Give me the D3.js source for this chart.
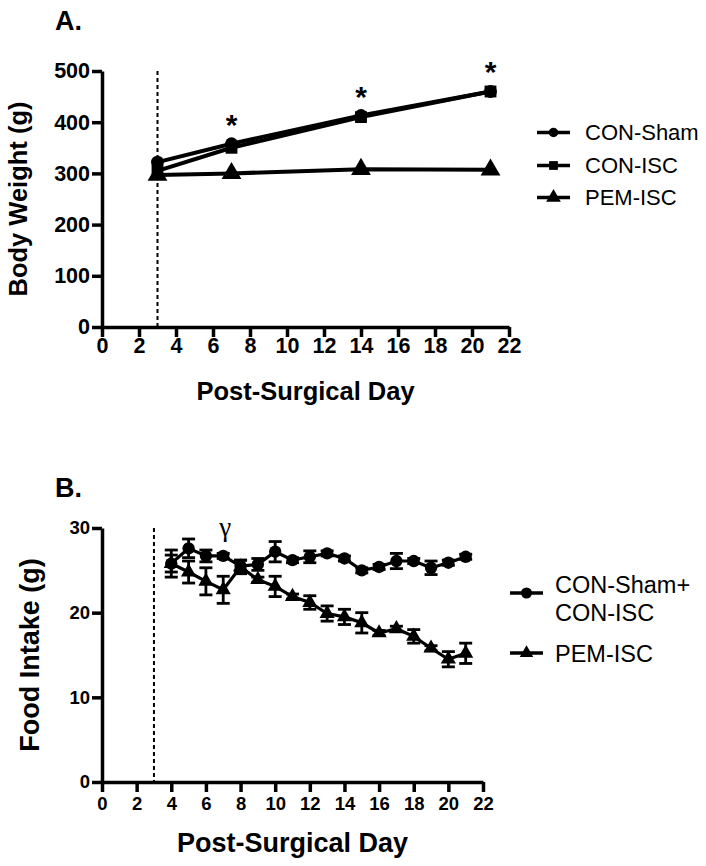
<!DOCTYPE html>
<html><head><meta charset="utf-8">
<script src="https://cdn.jsdelivr.net/npm/d3@7"></script>
<style>
html,body{margin:0;padding:0;background:#fff;}
svg{display:block;font-family:"Liberation Sans",Arial,Helvetica,sans-serif;}
</style></head>
<body><svg id="c" width="706" height="866"></svg>
<script>
// ---- Panel A data ----
const daysA = [3, 7, 14, 21];
const conShamA = [322, 358, 413, 460];
const conIscA = [305, 350, 410, 460];
const pemIscA = [297, 300, 308, 307];
const starDaysA = [7, 14, 21];
const xTicksA = [0,2,4,6,8,10,12,14,16,18,20,22];
const yTicksA = [0,100,200,300,400,500];
const legendA = ["CON-Sham", "CON-ISC", "PEM-ISC"];

// ---- Panel B data ----
const daysB = [4,5,6,7,8,9,10,11,12,13,14,15,16,17,18,19,20,21];
const conB = [25.8,27.6,26.7,26.7,25.5,25.7,27.2,26.2,26.6,27.0,26.4,25.0,25.4,26.1,26.1,25.3,25.9,26.6];
const conBErr = [1.6,1.1,0.7,0.3,0.7,0.7,1.2,0.3,0.7,0.3,0.3,0.3,0.3,0.9,0.3,0.8,0.3,0.3];
const pemB = [25.8,24.8,23.7,22.7,25.4,23.9,23.1,21.9,21.2,19.9,19.5,18.8,17.6,18.1,17.2,15.8,14.5,15.2];
const pemBErr = [1.0,1.3,1.6,1.6,0.8,0.3,1.2,0.3,0.8,0.9,0.9,1.2,0.3,0.3,0.8,0.3,0.9,1.2];
const gammaDay = 7;
const xTicksB = [0,2,4,6,8,10,12,14,16,18,20,22];
const yTicksB = [0,10,20,30];
const legendB = [["CON-Sham+","CON-ISC"], ["PEM-ISC"]];

const svg = d3.select("#c");

function styleAxis(g, fs, sw) {
  g.selectAll("path.domain").attr("stroke","#000").attr("stroke-width",sw);
  g.selectAll(".tick line").attr("stroke","#000").attr("stroke-width",sw);
  g.selectAll(".tick text").attr("fill","#000").attr("font-size",fs).attr("font-weight","bold")
    .attr("font-family","'Liberation Sans',Arial,sans-serif");
}
function sym(type, size) { return d3.symbol().type(type).size(size)(); }

// ================= Panel A =================
const xA = d3.scaleLinear().domain([0,22]).range([102,509]);
const yA = d3.scaleLinear().domain([0,500]).range([327,71]);
const gA = svg.append("g");

gA.append("text").attr("x",55).attr("y",30).attr("font-size",27).attr("font-weight","bold").text("A.");

const axYA = gA.append("g").attr("transform",`translate(${xA(0)},0)`)
  .call(d3.axisLeft(yA).tickValues(yTicksA).tickSize(10).tickSizeOuter(0).tickPadding(2));
styleAxis(axYA, 21.5, 3.5);
const axXA = gA.append("g").attr("transform",`translate(0,${yA(0)})`)
  .call(d3.axisBottom(xA).tickValues(xTicksA).tickSize(10).tickSizeOuter(0).tickPadding(1));
styleAxis(axXA, 21.5, 3.5);

gA.append("line").attr("x1",xA(3)).attr("x2",xA(3)).attr("y1",yA(500)).attr("y2",yA(0))
  .attr("stroke","#000").attr("stroke-width",2).attr("stroke-dasharray","4,3");

gA.append("text").attr("x",(xA(0)+xA(22))/2).attr("y",400).attr("text-anchor","middle")
  .attr("font-size",25.5).attr("font-weight","bold").text("Post-Surgical Day");
gA.append("text").attr("transform",`translate(27,${(yA(0)+yA(500))/2}) rotate(-90)`)
  .attr("text-anchor","middle").attr("font-size",25.5).attr("font-weight","bold").text("Body Weight (g)");

const seriesA = [
  {vals: conShamA, sym: d3.symbolCircle, size: 130},
  {vals: conIscA, sym: d3.symbolSquare, size: 140},
  {vals: pemIscA, sym: d3.symbolTriangle, size: 170}
];
const lineA = d3.line().x((d,i)=>xA(daysA[i])).y(d=>yA(d));
seriesA.slice().reverse().forEach(s => {
  gA.append("path").attr("d", lineA(s.vals)).attr("fill","none").attr("stroke","#000").attr("stroke-width",4);
});
seriesA.slice().reverse().forEach(s => {
  gA.selectAll(null).data(s.vals).enter().append("path")
    .attr("transform",(d,i)=>`translate(${xA(daysA[i])},${yA(d)})`)
    .attr("d", sym(s.sym, s.size)).attr("fill","#000");
});
// asterisks
gA.selectAll(null).data(starDaysA).enter().append("text")
  .attr("x", d => xA(d)).attr("text-anchor","middle")
  .attr("y", d => { const i = daysA.indexOf(d); return yA(Math.max(conShamA[i],conIscA[i])) - 26 + 17; })
  .attr("font-size",30).attr("font-weight","bold").text("*");

// legend A
const legYA = [132.5, 165.5, 197.5];
seriesA.forEach((s,i) => {
  gA.append("line").attr("x1",537).attr("x2",570).attr("y1",legYA[i]).attr("y2",legYA[i])
    .attr("stroke","#000").attr("stroke-width",3.5);
  gA.append("path").attr("transform",`translate(553.5,${legYA[i]})`).attr("d", sym(s.sym, s.size*0.55)).attr("fill","#000");
  gA.append("text").attr("x",585).attr("y",legYA[i]+7.5).attr("font-size",22).text(legendA[i]);
});

// ================= Panel B =================
const xB = d3.scaleLinear().domain([0,22]).range([102,483]);
const yB = d3.scaleLinear().domain([0,30]).range([782,528]);
const gB = svg.append("g");

gB.append("text").attr("x",55).attr("y",497).attr("font-size",27).attr("font-weight","bold").text("B.");

const axYB = gB.append("g").attr("transform",`translate(${xB(0)},0)`)
  .call(d3.axisLeft(yB).tickValues(yTicksB).tickSize(10).tickSizeOuter(0).tickPadding(2));
styleAxis(axYB, 18.5, 3.5);
const axXB = gB.append("g").attr("transform",`translate(0,${yB(0)})`)
  .call(d3.axisBottom(xB).tickValues(xTicksB).tickSize(10).tickSizeOuter(0).tickPadding(5));
styleAxis(axXB, 18.5, 3.5);

gB.append("line").attr("x1",xB(3)).attr("x2",xB(3)).attr("y1",yB(30)).attr("y2",yB(0))
  .attr("stroke","#000").attr("stroke-width",2).attr("stroke-dasharray","4,3");

gB.append("text").attr("x",(xB(0)+xB(22))/2).attr("y",852).attr("text-anchor","middle")
  .attr("font-size",27).attr("font-weight","bold").text("Post-Surgical Day");
gB.append("text").attr("transform",`translate(39,${(yB(0)+yB(30))/2}) rotate(-90)`)
  .attr("text-anchor","middle").attr("font-size",27).attr("font-weight","bold").text("Food Intake (g)");

const seriesB = [
  {vals: conB, err: conBErr, sym: d3.symbolCircle, size: 120},
  {vals: pemB, err: pemBErr, sym: d3.symbolTriangle, size: 100}
];
const lineB = d3.line().x((d,i)=>xB(daysB[i])).y(d=>yB(d));
seriesB.forEach(s => {
  gB.append("path").attr("d", lineB(s.vals)).attr("fill","none").attr("stroke","#000").attr("stroke-width",3.2);
});
seriesB.forEach(s => {
  const eb = gB.selectAll(null).data(s.vals).enter().append("g");
  eb.append("line").attr("x1",(d,i)=>xB(daysB[i])).attr("x2",(d,i)=>xB(daysB[i]))
    .attr("y1",(d,i)=>yB(d+s.err[i])).attr("y2",(d,i)=>yB(d-s.err[i])).attr("stroke","#000").attr("stroke-width",2.8);
  [1,-1].forEach(sg => {
    eb.append("line").attr("x1",(d,i)=>xB(daysB[i])-6.5).attr("x2",(d,i)=>xB(daysB[i])+6.5)
      .attr("y1",(d,i)=>yB(d+sg*s.err[i])).attr("y2",(d,i)=>yB(d+sg*s.err[i])).attr("stroke","#000").attr("stroke-width",2.8);
  });
});
seriesB.forEach(s => {
  gB.selectAll(null).data(s.vals).enter().append("path")
    .attr("transform",(d,i)=>`translate(${xB(daysB[i])},${yB(d)})`)
    .attr("d", sym(s.sym, s.size)).attr("fill","#000");
});
gB.append("text").attr("x",xB(gammaDay)+2).attr("y",536).attr("text-anchor","middle")
  .attr("font-family","'Liberation Serif','Times New Roman',serif").attr("font-size",27).text("γ");

// legend B
const legYB = [593, 653];
const legTextY = [[593, 621], [662]];
seriesB.forEach((s,i) => {
  gB.append("line").attr("x1",510).attr("x2",543).attr("y1",legYB[i]).attr("y2",legYB[i])
    .attr("stroke","#000").attr("stroke-width",3.5);
  gB.append("path").attr("transform",`translate(526.5,${legYB[i]})`).attr("d", sym(s.sym, s.size*0.8)).attr("fill","#000");
  legendB[i].forEach((t,j) => {
    gB.append("text").attr("x",555).attr("y",legTextY[i][j]).attr("font-size",23.5).text(t);
  });
});
</script>
</body></html>
